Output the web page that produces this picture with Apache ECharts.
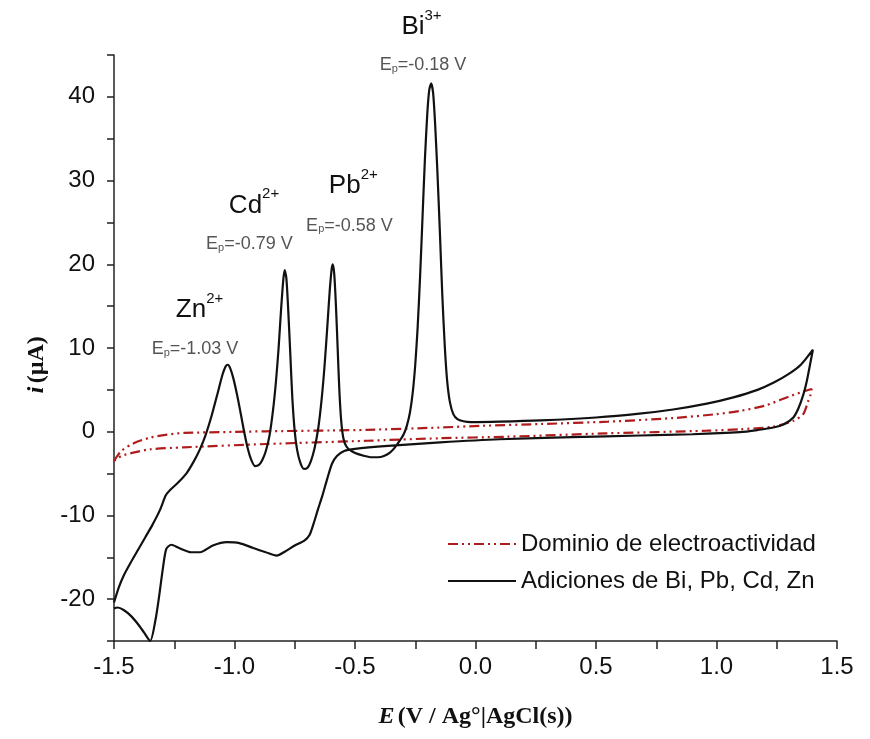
<!DOCTYPE html>
<html><head><meta charset="utf-8">
<script src="https://cdn.jsdelivr.net/npm/echarts@6/dist/echarts.min.js"></script>
<style>html,body{margin:0;padding:0;background:#fff}#c{width:870px;height:739px}</style>
</head><body><div id="c"></div>
<script>
// ---- tick labels ----
const xTickLabels = [-1.5, -1.0, -0.5, 0.0, 0.5, 1.0, 1.5];
const yTickLabels = [-20, -10, 0, 10, 20, 30, 40];

// ---- series names ----
const seriesNames = ['Dominio de electroactividad', 'Adiciones de Bi, Pb, Cd, Zn'];

// ---- black curve: anodic scan (-1.5 -> 1.4 V) ----
const blackForward = [[-1.5,-20.4],[-1.48,-18.6],[-1.46,-17.2],[-1.43,-15.6],[-1.40,-14.1],[-1.37,-12.6],[-1.34,-11.1],[-1.31,-9.4],[-1.285,-7.6],[-1.265,-6.9],[-1.235,-6.1],[-1.2,-5.0],[-1.17,-3.6],[-1.145,-2.2],[-1.12,-0.4],[-1.095,1.9],[-1.07,4.6],[-1.05,6.8],[-1.037,7.8],[-1.028,8.0],[-1.018,7.6],[-1.005,6.4],[-0.99,4.5],[-0.975,2.3],[-0.96,0.0],[-0.945,-2.0],[-0.93,-3.4],[-0.915,-4.1],[-0.9,-4.0],[-0.885,-3.4],[-0.87,-2.3],[-0.855,-0.5],[-0.84,2.6],[-0.828,6.0],[-0.817,10.0],[-0.807,14.5],[-0.798,18.0],[-0.792,19.3],[-0.785,18.4],[-0.777,14.5],[-0.768,9.0],[-0.76,4.0],[-0.75,0.0],[-0.74,-2.2],[-0.727,-3.7],[-0.712,-4.45],[-0.697,-4.3],[-0.683,-3.5],[-0.668,-2.0],[-0.652,0.5],[-0.638,4.0],[-0.626,8.0],[-0.615,12.5],[-0.605,16.8],[-0.597,19.4],[-0.592,20.0],[-0.586,18.8],[-0.579,15.0],[-0.572,10.0],[-0.565,5.0],[-0.557,1.2],[-0.548,-0.8],[-0.535,-1.8],[-0.515,-2.3],[-0.49,-2.65],[-0.46,-2.9],[-0.43,-3.05],[-0.405,-3.05],[-0.38,-2.9],[-0.355,-2.5],[-0.335,-1.9],[-0.315,-1.1],[-0.298,-0.3],[-0.285,0.7],[-0.272,2.3],[-0.26,4.8],[-0.25,8.0],[-0.24,12.5],[-0.23,18.5],[-0.22,25.5],[-0.21,32.5],[-0.2,38.0],[-0.192,40.8],[-0.184,41.6],[-0.176,40.5],[-0.168,37.0],[-0.158,31.0],[-0.148,24.0],[-0.138,16.5],[-0.128,10.5],[-0.118,6.2],[-0.106,3.5],[-0.092,2.1],[-0.075,1.5],[-0.05,1.25],[-0.02,1.15],[0.1,1.2],[0.27,1.35],[0.5,1.7],[0.68,2.15],[0.82,2.65],[0.96,3.35],[1.07,4.1],[1.17,5.0],[1.24,5.9],[1.3,6.9],[1.35,8.0],[1.4,9.8]];

// ---- black curve: cathodic scan (1.4 -> -1.5 V) ----
const blackReverse = [[1.388,8.0],[1.375,6.1],[1.36,4.4],[1.34,2.8],[1.319,1.7],[1.28,0.9],[1.236,0.5],[1.17,0.2],[1.097,-0.05],[0.9,-0.3],[0.683,-0.45],[0.4,-0.65],[0.1,-0.9],[-0.147,-1.28],[-0.363,-1.7],[-0.5,-2.05],[-0.545,-2.3],[-0.575,-2.9],[-0.595,-3.8],[-0.615,-5.6],[-0.635,-7.6],[-0.655,-9.4],[-0.672,-11.0],[-0.688,-12.3],[-0.71,-13.0],[-0.75,-13.6],[-0.79,-14.3],[-0.825,-14.8],[-0.87,-14.4],[-0.922,-13.9],[-0.98,-13.3],[-1.032,-13.2],[-1.09,-13.6],[-1.143,-14.4],[-1.18,-14.4],[-1.23,-13.9],[-1.262,-13.5],[-1.283,-14.0],[-1.298,-16.5],[-1.312,-19.5],[-1.328,-22.5],[-1.35,-25.0],[-1.375,-24.0],[-1.4,-23.0],[-1.43,-22.0],[-1.46,-21.3],[-1.485,-21.0],[-1.5,-21.1]];

// ---- red curve (electroactivity window, blank) ----
const redForward = [[-1.5,-3.5],[-1.47,-2.3],[-1.42,-1.4],[-1.35,-0.7],[-1.28,-0.35],[-1.21,-0.15],[-1.0,-0.02],[-0.87,0.05],[-0.6,0.15],[-0.45,0.22],[-0.15,0.5],[0.02,0.7],[0.27,0.92],[0.55,1.2],[0.82,1.63],[1.0,2.1],[1.1,2.5],[1.2,3.1],[1.3,4.2],[1.36,4.8],[1.395,5.1]];
const redReverse = [[1.39,4.4],[1.381,3.7],[1.36,2.1],[1.319,1.3],[1.236,0.6],[1.1,0.3],[0.96,0.12],[0.54,-0.2],[0.13,-0.6],[-0.15,-0.78],[-0.45,-1.08],[-0.87,-1.47],[-1.21,-1.87],[-1.35,-2.1],[-1.42,-2.5],[-1.47,-2.9],[-1.5,-3.5]];

// ---- peak annotations ----
const ionSymbols = ['Zn', 'Cd', 'Pb', 'Bi'];
const ionCharges = ['2+', '2+', '2+', '3+'];
const peakPotentials = ['-1.03', '-0.79', '-0.58', '-0.18'];
const ionLabelAt = [[-1.145, 13.7], [-0.919, 26.2], [-0.507, 28.5], [-0.224, 47.5]];
const epLabelAt = [[-1.164, 9.5], [-0.938, 22.05], [-0.523, 24.25], [-0.218, 43.4]];

const SANS = 'Liberation Sans, Arial, sans-serif';
const SERIF = 'Liberation Serif, Times New Roman, serif';
const AX = '#222';
const RED = '#b01c1c';

function isIn(arr, v) { return arr.some(t => Math.abs(t - v) < 1e-6); }

const option = {
  animation: false,
  backgroundColor: '#fff',
  grid: { left: 114, right: 33, top: 55, bottom: 98, containLabel: false },
  legend: {
    data: seriesNames,
    orient: 'vertical',
    left: 442, top: 527,
    itemWidth: 68, itemHeight: 14, itemGap: 13,
    itemStyle: { opacity: 0 },
    textStyle: { fontFamily: SANS, fontSize: 24, color: '#111' },
    selectedMode: false
  },
  xAxis: {
    type: 'value', min: -1.5, max: 1.5, interval: 0.25,
    axisLine: { show: true, onZero: false, lineStyle: { color: AX, width: 1.5 } },
    axisTick: { show: true, length: 8, lineStyle: { color: AX, width: 1.5 } },
    splitLine: { show: false },
    axisLabel: {
      fontFamily: SANS, fontSize: 24, color: '#111', margin: 14,
      formatter: v => isIn(xTickLabels, v) ? v.toFixed(1) : ''
    }
  },
  yAxis: {
    type: 'value', min: -25, max: 45, interval: 5,
    axisLine: { show: true, onZero: false, lineStyle: { color: AX, width: 1.5 } },
    axisTick: { show: true, length: 7, lineStyle: { color: AX, width: 1.5 } },
    splitLine: { show: false },
    axisLabel: {
      fontFamily: SANS, fontSize: 24, color: '#111', margin: 19,
      formatter: v => isIn(yTickLabels, v) ? String(v) : ''
    }
  },
  series: [
    {
      name: seriesNames[0], type: 'line', data: redForward.concat(redReverse),
      showSymbol: false, symbol: 'none', smooth: 0.25,
      lineStyle: { color: RED, width: 2.2, type: [10, 4, 2, 4, 2, 4] },
      itemStyle: { color: RED }, z: 2
    },
    {
      name: seriesNames[1], type: 'line', data: blackForward.concat(blackReverse),
      showSymbol: false, symbol: 'none', smooth: 0.25,
      lineStyle: { color: '#111', width: 2.2 },
      itemStyle: { color: '#111' }, z: 3
    }
  ]
};

const chart = echarts.init(document.getElementById('c'), null, { renderer: 'canvas' });
chart.setOption(option);

function buildGraphics() {
  const g = [];
  for (let i = 0; i < ionSymbols.length; i++) {
    const p1 = chart.convertToPixel({ gridIndex: 0 }, ionLabelAt[i]);
    g.push({
      type: 'text', x: p1[0], y: p1[1] + 6, z: 10,
      style: {
        text: '{m|' + ionSymbols[i] + '}{s|' + ionCharges[i] + '}',
        align: 'center', verticalAlign: 'bottom',
        rich: {
          m: { fontSize: 26, fontFamily: SANS, fill: '#111', color: '#111', lineHeight: 32, verticalAlign: 'bottom' },
          s: { fontSize: 15, fontFamily: SANS, fill: '#111', color: '#111', lineHeight: 18, verticalAlign: 'top' }
        }
      }
    });
    const p2 = chart.convertToPixel({ gridIndex: 0 }, epLabelAt[i]);
    g.push({
      type: 'text', x: p2[0], y: p2[1] + 6, z: 10,
      style: {
        text: '{e|E}{p|p}{e|=' + peakPotentials[i] + ' V}',
        align: 'center', verticalAlign: 'bottom',
        rich: {
          e: { fontSize: 18, fontFamily: SANS, fill: '#555', color: '#555', lineHeight: 26, verticalAlign: 'bottom' },
          p: { fontSize: 11, fontFamily: SANS, fill: '#555', color: '#555', lineHeight: 7, verticalAlign: 'bottom' }
        }
      }
    });
  }
  // axis titles
  const xl = chart.convertToPixel({ gridIndex: 0 }, [0, -25]);
  g.push({
    type: 'text', x: xl[0], y: 717, z: 10,
    style: {
      text: '{i|E} {b|(V / Ag°|AgCl(s))}', align: 'center', verticalAlign: 'middle',
      rich: {
        i: { fontSize: 24, fontFamily: SERIF, fontStyle: 'italic', fontWeight: 'bold', fill: '#111', color: '#111' },
        b: { fontSize: 24, fontFamily: SERIF, fontWeight: 'bold', fill: '#111', color: '#111' }
      }
    }
  });
  const yl = chart.convertToPixel({ gridIndex: 0 }, [-1.5, 8]);
  g.push({
    type: 'text', x: 37, y: yl[1], rotation: Math.PI / 2, z: 10,
    style: {
      text: '{i|i} {b|(µA)}', align: 'center', verticalAlign: 'middle',
      rich: {
        i: { fontSize: 24, fontFamily: SERIF, fontStyle: 'italic', fontWeight: 'bold', fill: '#111', color: '#111' },
        b: { fontSize: 24, fontFamily: SERIF, fontWeight: 'bold', fill: '#111', color: '#111' }
      }
    }
  });
  chart.setOption({ graphic: g });
}
buildGraphics();
</script>
</body></html>
